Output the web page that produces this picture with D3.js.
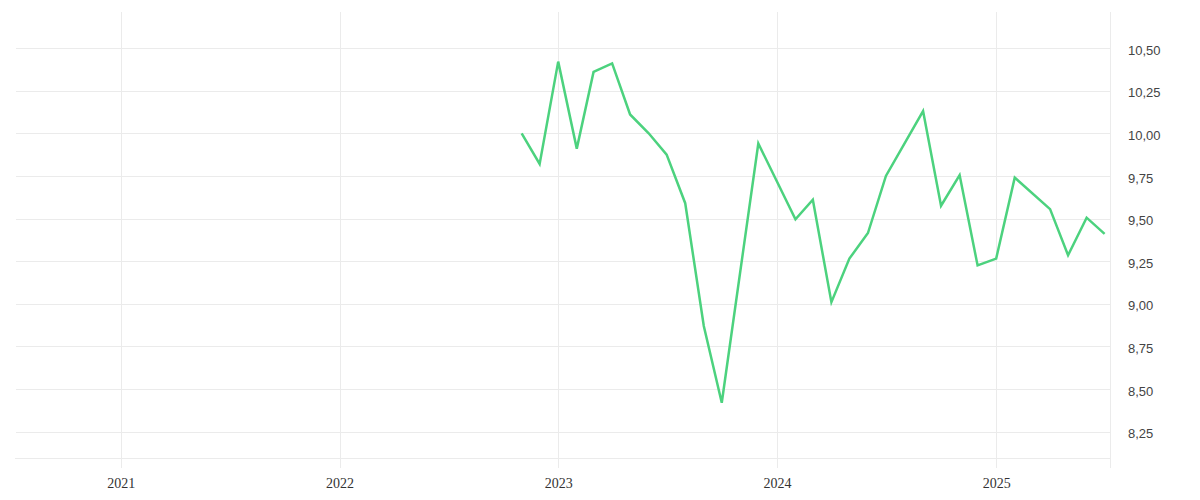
<!DOCTYPE html>
<html>
<head>
<meta charset="utf-8">
<script src="https://cdn.jsdelivr.net/npm/d3@7"></script>
<style>
  html, body { margin: 0; padding: 0; background: #ffffff; }
  svg { display: block; }
</style>
</head>
<body>
<svg id="chart" width="1200" height="500"></svg>
<script>
// ---- data ----
const dates = [
  "2022-11-01","2022-12-01","2023-01-01","2023-02-01","2023-03-01","2023-04-01",
  "2023-05-01","2023-06-01","2023-07-01","2023-08-01","2023-09-01","2023-10-01",
  "2023-12-01","2024-02-01","2024-03-01","2024-04-01","2024-05-01","2024-06-01",
  "2024-07-01","2024-09-01","2024-10-01","2024-11-01","2024-12-01","2025-01-01",
  "2025-02-01","2025-04-01","2025-05-01","2025-06-01","2025-07-01"
];
const values = [
  10.00, 9.82, 10.42, 9.91, 10.36, 10.41,
  10.11, 10.00, 9.875, 9.59, 8.87, 8.42,
  9.94, 9.495, 9.61, 9.01, 9.265, 9.415,
  9.75, 10.13, 9.575, 9.755, 9.225, 9.265,
  9.74, 9.555, 9.285, 9.505, 9.41
];
const yTickValues = [8.25, 8.5, 8.75, 9.0, 9.25, 9.5, 9.75, 10.0, 10.25, 10.5];
const xTickYears = [2021, 2022, 2023, 2024, 2025];
const xDomain = ["2020-07-10", "2025-07-10"];
const yDomain = [8.096, 10.711];

(function () {
const svg = d3.select("#chart");
const mLeft = 16, mRight = 1110, mTop = 12, mBottom = 458, tickExt = 10;

const x = d3.scaleUtc().domain(xDomain.map(d => new Date(d))).range([mLeft, mRight]);
const y = d3.scaleLinear().domain(yDomain).range([mBottom, mTop]);
const fmt = v => d3.format(".2f")(v).replace(".", ",");

const grid = svg.append("g").attr("stroke", "#ebebeb").attr("stroke-width", 1).attr("shape-rendering", "crispEdges");

// horizontal gridlines
grid.selectAll("line.h").data(yTickValues).join("line")
  .attr("x1", mLeft).attr("x2", mRight)
  .attr("y1", d => Math.round(y(d)) + 0.5).attr("y2", d => Math.round(y(d)) + 0.5);
// baseline
grid.append("line").attr("x1", mLeft - 1).attr("x2", mRight)
  .attr("y1", mBottom + 0.5).attr("y2", mBottom + 0.5);
// vertical gridlines
const yearDates = xTickYears.map(yr => new Date(Date.UTC(yr, 0, 1)));
grid.selectAll("line.v").data(yearDates).join("line")
  .attr("x1", d => Math.round(x(d)) + 0.5).attr("x2", d => Math.round(x(d)) + 0.5)
  .attr("y1", mTop).attr("y2", mBottom + tickExt);
// right border
grid.append("line").attr("x1", mRight + 0.5).attr("x2", mRight + 0.5)
  .attr("y1", mTop).attr("y2", mBottom + tickExt);

// x axis labels
const xAxis = d3.axisBottom(x).tickValues(yearDates).tickSize(0).tickPadding(0)
  .tickFormat(d3.utcFormat("%Y"));
const gx = svg.append("g").attr("transform", `translate(0,${mBottom + 30})`).call(xAxis);
gx.select(".domain").remove();
gx.selectAll("text")
  .attr("dy", null).attr("y", 0)
  .attr("fill", "#333")
  .style("font-family", "'Liberation Serif', serif")
  .style("font-size", "14px");

// y axis labels (right)
const yAxis = d3.axisRight(y).tickValues(yTickValues).tickSize(0).tickPadding(0).tickFormat(fmt);
const gy = svg.append("g").attr("transform", `translate(1128,2)`).call(yAxis);
gy.select(".domain").remove();
gy.selectAll("text")
  .attr("fill", "#444")
  .style("font-family", "'Liberation Sans', sans-serif")
  .style("font-size", "13px");

// line
const series = dates.map((d, i) => ({ date: new Date(d), value: values[i] }));
const line = d3.line().x(d => x(d.date)).y(d => y(d.value));
svg.append("path").datum(series)
  .attr("fill", "none")
  .attr("stroke", "#4cd27e")
  .attr("stroke-width", 2.5)
  .attr("stroke-linejoin", "miter")
  .attr("d", line);
})();
</script>
</body>
</html>
